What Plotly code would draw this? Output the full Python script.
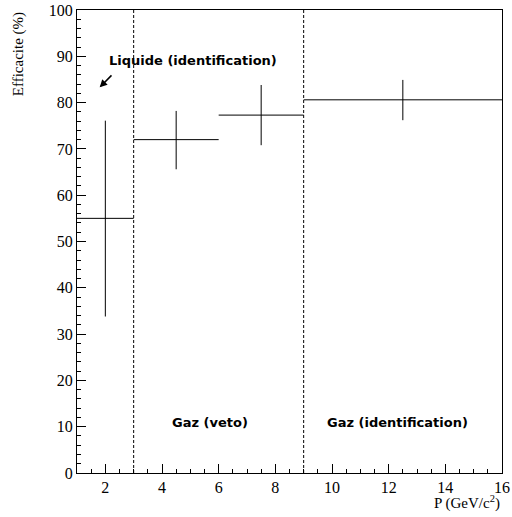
import plotly.graph_objects as go

# data
p_center = [2, 4.5, 7.5, 12.5]
p_half = [1, 1.5, 1.5, 3.5]
eff = [55.0, 72.0, 77.3, 80.6]
err_up = [21.1, 6.2, 6.5, 4.3]
err_down = [21.2, 6.4, 6.5, 4.4]
boundaries = [3, 9]
x_ticks = [2, 4, 6, 8, 10, 12, 14, 16]
y_ticks = [0, 10, 20, 30, 40, 50, 60, 70, 80, 90, 100]

serif = "Liberation Serif"
label_font = dict(family="DejaVu Sans", size=13, color="black")

fig = go.Figure()
fig.add_trace(go.Scatter(
    x=p_center, y=eff, mode="markers",
    marker=dict(size=1, color="black", opacity=0),
    error_x=dict(type="data", array=p_half, arrayminus=p_half, width=0, thickness=1, color="black"),
    error_y=dict(type="data", array=err_up, arrayminus=err_down, width=0, thickness=1, color="black"),
    showlegend=False, hoverinfo="skip",
))

for b in boundaries:
    fig.add_shape(type="line", x0=b, x1=b, y0=0, y1=100, xref="x", yref="y",
                  line=dict(color="black", width=1, dash="3px,2px"))

fig.add_annotation(x=5.09, y=89, xref="x", yref="y", text="<b>Liquide (identification)</b>",
                   showarrow=False, font=label_font)
fig.add_annotation(x=5.69, y=11, xref="x", yref="y", text="<b>Gaz (veto)</b>",
                   showarrow=False, font=label_font)
fig.add_annotation(x=12.3, y=11, xref="x", yref="y", text="<b>Gaz (identification)</b>",
                   showarrow=False, font=label_font)
fig.add_annotation(x=1.8, y=83.3, ax=2.27, ay=86.2, xref="x", yref="y", axref="x", ayref="y",
                   text="", showarrow=True, arrowhead=2, arrowsize=1, arrowwidth=1.5, arrowcolor="black")

fig.add_annotation(x=-0.163, y=1.0, xref="paper", yref="paper", text="Efficacite (%)",
                   textangle=-90, showarrow=False, xanchor="left", yanchor="top",
                   font=dict(family=serif, size=15, color="black"))
fig.add_annotation(x=1.0, y=-0.038, xref="paper", yref="paper", text="P (GeV/c<sup>2</sup>)",
                   showarrow=False, xanchor="right", yanchor="top",
                   font=dict(family=serif, size=15, color="black"))

fig.update_xaxes(range=[1, 16], tickvals=x_ticks, ticks="inside", ticklen=9, tickcolor="black",
                 showline=True, linecolor="black", linewidth=1, mirror=True, showgrid=False,
                 zeroline=False, tickfont=dict(family=serif, size=16, color="black"),
                 minor=dict(dtick=0.5, tick0=0, ticks="inside", ticklen=4, tickcolor="black", showgrid=False))
fig.update_yaxes(range=[0, 100], tickvals=y_ticks, ticks="inside", ticklen=9, tickcolor="black",
                 showline=True, linecolor="black", linewidth=1, mirror=True, showgrid=False,
                 zeroline=False, tickfont=dict(family=serif, size=16, color="black"),
                 minor=dict(dtick=2, tick0=0, ticks="inside", ticklen=4, tickcolor="black", showgrid=False))

fig.update_layout(width=512, height=517, margin=dict(l=77, r=10, t=10, b=44, autoexpand=False),
                  plot_bgcolor="white", paper_bgcolor="white")
fig.write_html("out.html", config={"displayModeBar": False},
               post_script="document.body.style.margin='0';document.body.style.overflow='hidden';")
